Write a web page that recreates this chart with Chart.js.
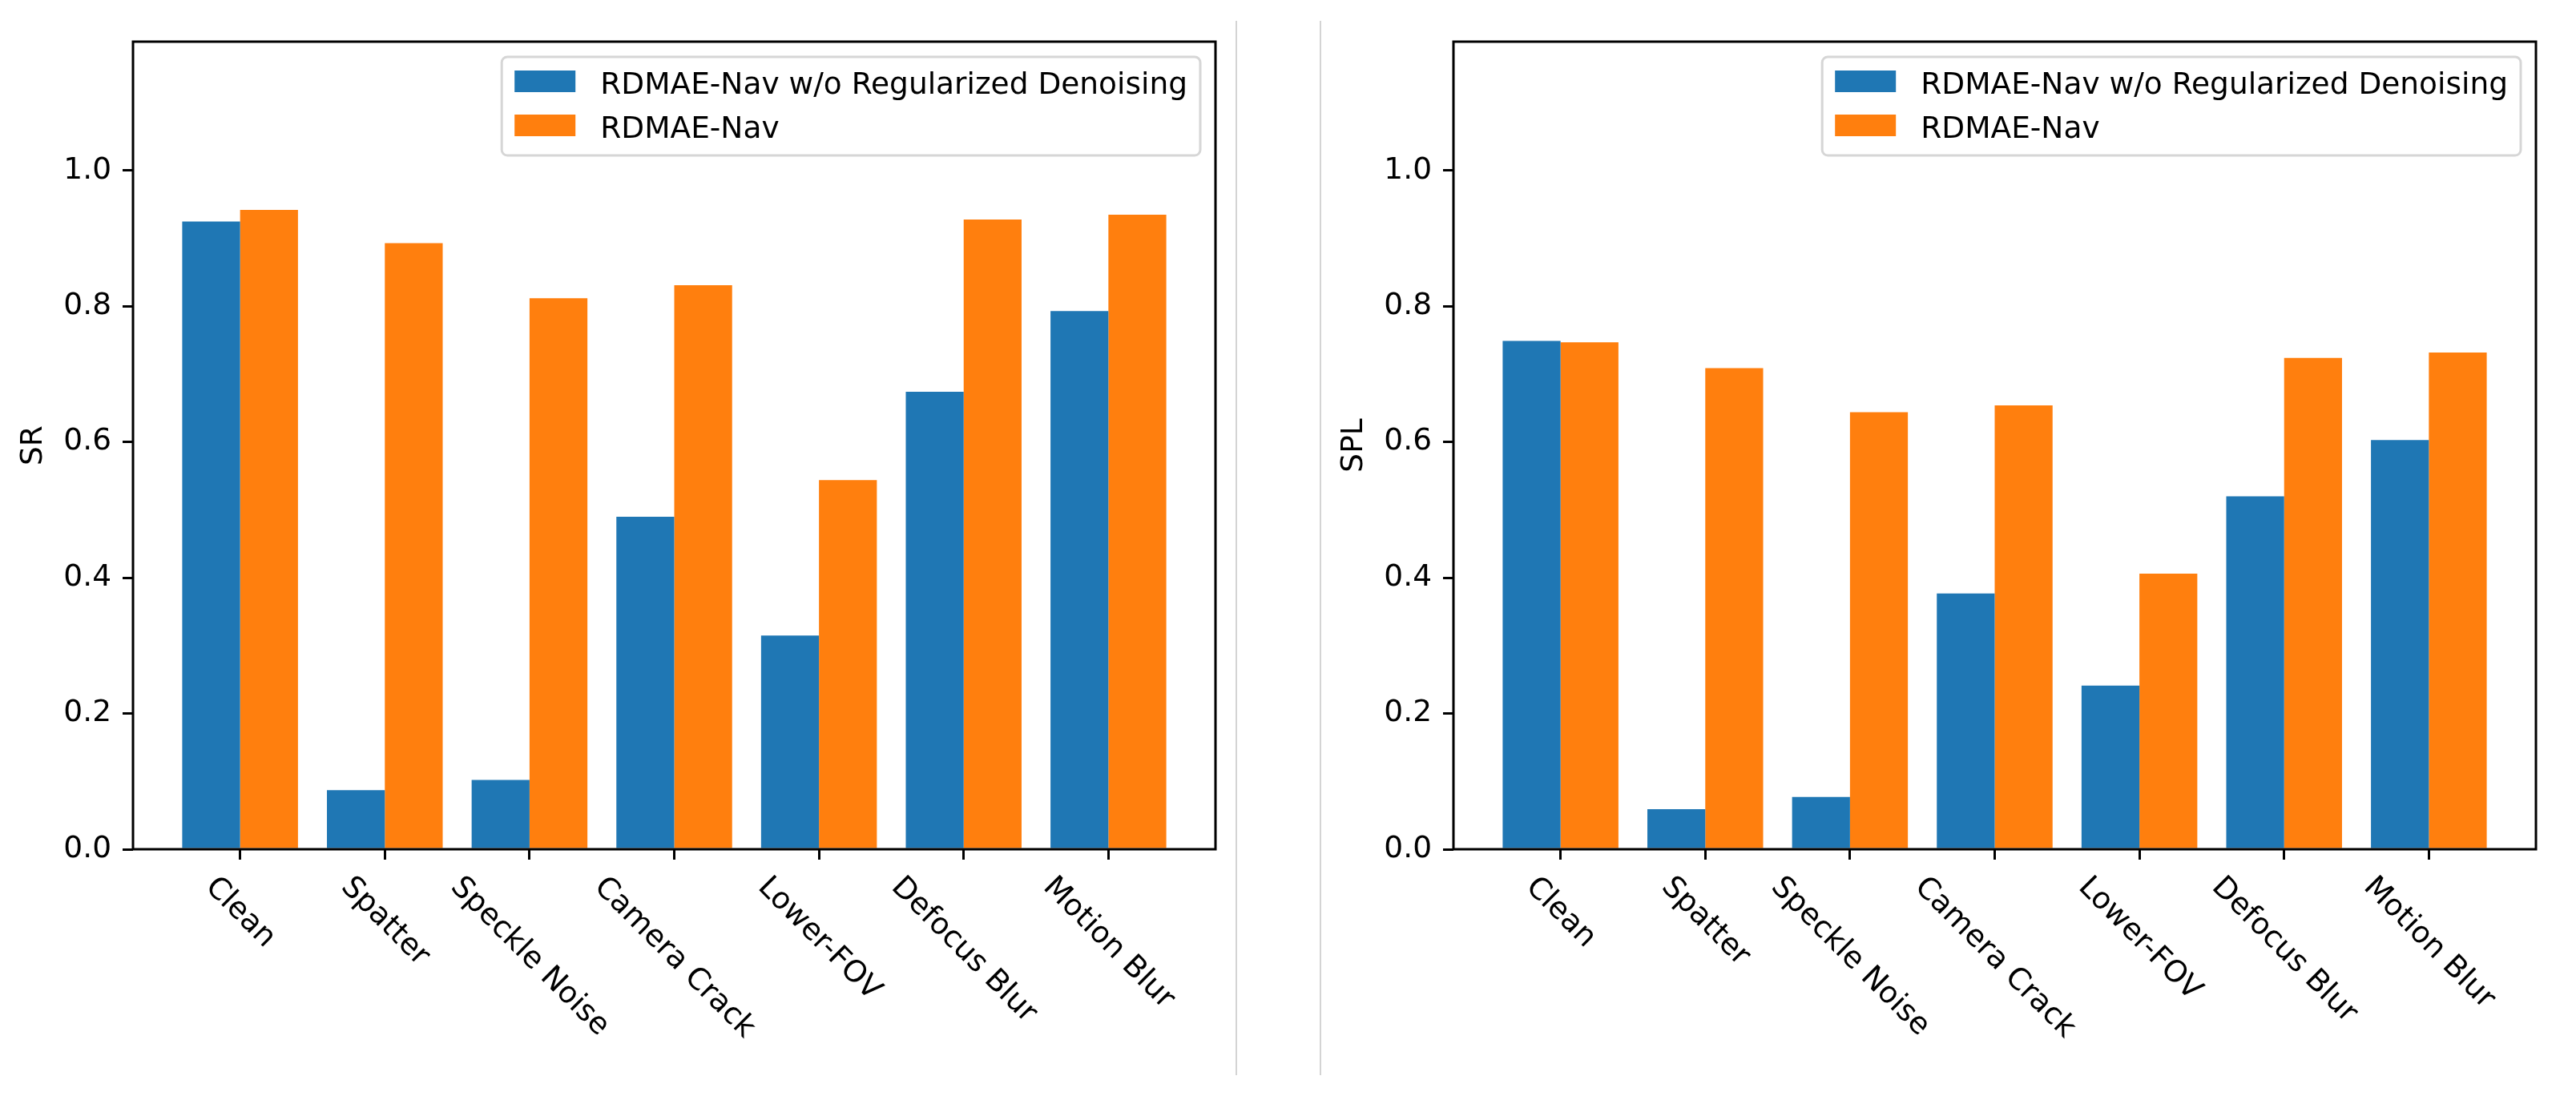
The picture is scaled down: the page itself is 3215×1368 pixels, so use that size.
<!DOCTYPE html>
<html>
<head>
<meta charset="utf-8">
<title>SR / SPL under corruptions</title>
<script src="https://cdn.jsdelivr.net/npm/chart.js@4.4.1/dist/chart.umd.min.js"></script>
<style>
    html, body { margin: 0; padding: 0; background: #fff; width: 3215px; height: 1368px; overflow: hidden; }
    .panel { position: absolute; top: 0; width: 1543px; height: 1368px; }
    #left-panel { left: 0; }
    #right-panel { left: 1648px; }
    .divider { position: absolute; top: 26px; height: 1316px; width: 2px; background: #d4d4d4; }
</style>
</head>
<body>
<div class="panel" id="left-panel"><canvas id="srChart" width="1543" height="1368"></canvas></div>
<div class="divider" style="left:1542px"></div>
<div class="divider" style="left:1647px"></div>
<div class="panel" id="right-panel"><canvas id="splChart" width="1543" height="1368"></canvas></div>

<script>
const CATEGORIES = ["Clean", "Spatter", "Speckle Noise", "Camera Crack", "Lower-FOV", "Defocus Blur", "Motion Blur"];
const SERIES_NAMES = ["RDMAE-Nav w/o Regularized Denoising", "RDMAE-Nav"];

const SR_WITHOUT = [0.925, 0.087, 0.102, 0.490, 0.315, 0.674, 0.793];
const SR_FULL = [0.942, 0.893, 0.812, 0.831, 0.544, 0.928, 0.935];

const SPL_WITHOUT = [0.749, 0.059, 0.077, 0.377, 0.241, 0.520, 0.603];
const SPL_FULL = [0.747, 0.709, 0.644, 0.654, 0.406, 0.724, 0.732];

const Y_TICKS = [0, 0.2, 0.4, 0.6, 0.8, 1.0];
const Y_MAX = 1.19;

const COLORS = ["#1f77b4", "#ff7f0e"];
const FONT_SIZE = 37.5;
const FONT = FONT_SIZE + "px 'DejaVu Sans'";

Chart.defaults.font.family = "'DejaVu Sans', sans-serif";
Chart.defaults.color = "#000";

function toPoints(values) {
    return values.map((v, i) => ({ x: i, y: v }));
}

function drawLegend(chart) {
    const { ctx, chartArea } = chart;
    const sets = chart.data.datasets;

    ctx.font = FONT;
    const textW = Math.max(...sets.map(d => ctx.measureText(d.label).width));
    const boxW = 16 + 76 + 31 + textW + 16;
    const boxH = 123;
    const right = chartArea.right - 19;
    const top = chartArea.top + 19;
    const left = right - boxW;

    ctx.beginPath();
    ctx.roundRect(left, top, boxW, boxH, 7);
    ctx.fillStyle = "rgba(255,255,255,0.8)";
    ctx.fill();
    ctx.lineWidth = 3;
    ctx.strokeStyle = "#d6d6d6";
    ctx.stroke();

    sets.forEach((d, i) => {
        const y = top + 17 + i * 55;
        ctx.fillStyle = d.backgroundColor;
        ctx.fillRect(left + 16, y, 76, 27);
        ctx.fillStyle = "#000";
        ctx.textAlign = "left";
        ctx.textBaseline = "alphabetic";
        ctx.fillText(d.label, left + 16 + 76 + 31, y + 29);
    });
}

// axes frame, slanted category labels and the legend, matplotlib style
const frameAndLabels = {
    id: "frameAndLabels",
    afterDatasetsDraw(chart) {
        const { ctx, chartArea: a, scales } = chart;
        ctx.save();

        ctx.strokeStyle = "#000";
        ctx.lineWidth = 3;
        ctx.strokeRect(a.left, a.top, a.right - a.left, a.bottom - a.top);

        ctx.font = FONT;
        ctx.fillStyle = "#000";
        ctx.textAlign = "center";
        ctx.textBaseline = "middle";
        const h = 44;
        CATEGORIES.forEach((name, i) => {
            const w = ctx.measureText(name).width;
            const side = (w + h) / Math.SQRT2;
            const x = scales.x.getPixelForValue(i);
            const y = a.bottom + 26 + side / 2;
            ctx.save();
            ctx.translate(x, y);
            ctx.rotate(Math.PI / 4);
            ctx.fillText(name, 0, 0);
            ctx.restore();
        });

        drawLegend(chart);
        ctx.restore();
    }
};

function makeChart(canvasId, yTitle, without, full) {
    const ctx = document.getElementById(canvasId).getContext("2d");

    return new Chart(ctx, {
        type: "bar",
        data: {
            datasets: [
                { label: SERIES_NAMES[0], data: toPoints(without), backgroundColor: COLORS[0], borderWidth: 0 },
                { label: SERIES_NAMES[1], data: toPoints(full), backgroundColor: COLORS[1], borderWidth: 0 }
            ]
        },
        options: {
            responsive: false,
            animation: false,
            devicePixelRatio: 1,
            events: [],
            categoryPercentage: 0.8,
            barPercentage: 1.0,
            layout: { padding: { top: 52, right: 26, left: 0, bottom: 0 } },
            plugins: {
                legend: { display: false },
                tooltip: { enabled: false }
            },
            scales: {
                x: {
                    type: "linear",
                    min: -0.74,
                    max: 6.74,
                    offset: false,
                    grid: {
                        offset: false,
                        drawOnChartArea: false,
                        drawTicks: true,
                        tickLength: 13,
                        color: "#000",
                        lineWidth: 3
                    },
                    border: { display: false },
                    ticks: { display: false },
                    afterBuildTicks: s => { s.ticks = CATEGORIES.map((_, i) => ({ value: i })); },
                    afterFit: s => { s.height = 308; }
                },
                y: {
                    min: 0,
                    max: Y_MAX,
                    grid: {
                        drawOnChartArea: false,
                        drawTicks: true,
                        tickLength: 13,
                        color: "#000",
                        lineWidth: 3
                    },
                    border: { display: false },
                    ticks: {
                        font: { size: FONT_SIZE },
                        color: "#000",
                        padding: 14,
                        callback: v => v.toFixed(1)
                    },
                    afterBuildTicks: s => { s.ticks = Y_TICKS.map(v => ({ value: v })); },
                    afterFit: s => { s.width = 166; },
                    title: {
                        display: true,
                        text: yTitle,
                        color: "#000",
                        font: { size: FONT_SIZE },
                        padding: { top: 20, bottom: 0 }
                    }
                }
            }
        },
        plugins: [frameAndLabels]
    });
}

makeChart("srChart", "SR", SR_WITHOUT, SR_FULL);
makeChart("splChart", "SPL", SPL_WITHOUT, SPL_FULL);
</script>
</body>
</html>
